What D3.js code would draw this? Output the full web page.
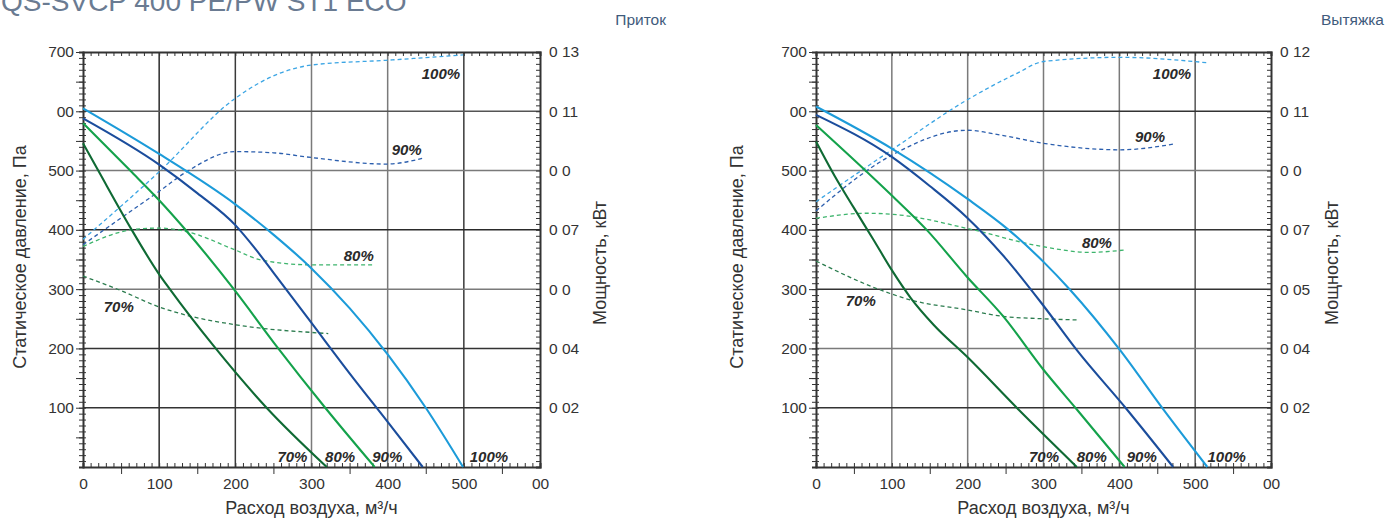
<!DOCTYPE html>
<html>
<head>
<meta charset="utf-8">
<script src="https://cdn.jsdelivr.net/npm/d3@7"></script>
<style>
  html, body { margin: 0; padding: 0; background: #fff; }
  svg { display: block; font-family: "Liberation Sans", Arial, sans-serif; }
</style>
</head>
<body>
<script>
// ---------------- DATA ----------------
const chartTitle = "QS-SVCP 400 PE/PW ST1 ECO";
const panelNames = ["Приток", "Вытяжка"];
const speeds = ["70%", "80%", "90%", "100%"];

const flowTicks = [0, 100, 200, 300, 400, 500, 600];
const flowTickLabels = ["0", "100", "200", "300", "400", "500", "00"];
const pressureTicks = [100, 200, 300, 400, 500, 600, 700];
const pressureTickLabels = ["100", "200", "300", "400", "500", "00", "700"];

const supplyPowerTicks = [0.02, 0.04, 0.06, 0.07, 0.09, 0.11, 0.13];
const supplyPowerTickLabels = ["0 02", "0 04", "0 0", "0 07", "0 0", "0 11", "0 13"];
const exhaustPowerTicks = [0.02, 0.04, 0.05, 0.07, 0.09, 0.11, 0.12];
const exhaustPowerTickLabels = ["0 02", "0 04", "0 05", "0 07", "0 0", "0 11", "0 12"];

// Supply (Приток): static pressure, Pa, vs air flow m3/h
const supplyPressure70  = [[0,546],[20,500],[64,400],[100,325],[114,300],[171,205],[241,100],[320,0]];
const supplyPressure80  = [[0,580],[62,500],[100,450],[132,404],[198,300],[254,204],[318,100],[383,0]];
const supplyPressure90  = [[0,588],[100,510],[150,462],[200,408],[225,370],[250,328],[300,243],[350,158],[400,76],[446,0]];
const supplyPressure100 = [[0,605],[100,528],[200,443],[250,392],[300,335],[350,268],[400,190],[450,100],[499,0]];
// Supply: power, kW
const supplyPower70  = [[0,0.0622],[48,0.0597],[100,0.054],[136,0.0512],[200,0.048],[234,0.0468],[300,0.0454],[322,0.045]];
const supplyPower80  = [[0,0.0672],[66,0.0701],[100,0.0706],[136,0.0697],[200,0.0666],[234,0.0649],[300,0.0641],[383,0.0641]];
const supplyPower90  = [[0,0.0675],[50,0.074],[100,0.083],[136,0.0896],[200,0.0964],[250,0.096],[300,0.0944],[398,0.0922],[447,0.0942]];
const supplyPower100 = [[0,0.0684],[100,0.0896],[200,0.1144],[258,0.1228],[300,0.1256],[398,0.1272],[499,0.129]];

// Exhaust (Вытяжка): static pressure, Pa
const exhaustPressure70  = [[0,549],[25,490],[50,437],[75,385],[100,332],[125,285],[155,240],[200,185],[267,97],[344,0]];
const exhaustPressure80  = [[0,577],[100,458],[146,400],[199,321],[247,254],[300,164],[344,97],[407,0]];
const exhaustPressure90  = [[0,594],[100,523],[150,474],[199,421],[250,352],[300,272],[344,197],[410,97],[471,0]];
const exhaustPressure100 = [[0,608],[100,537],[199,453],[254,400],[300,346],[335,299],[401,197],[458,97],[516,0]];
// Exhaust: power, kW
const exhaustPower70  = [[0,0.0595],[80,0.0502],[124,0.0482],[199,0.0465],[247,0.0454],[300,0.045],[346,0.0448]];
const exhaustPower80  = [[0,0.0739],[67,0.0756],[111,0.075],[199,0.0705],[300,0.0643],[361,0.0624],[407,0.0632]];
const exhaustPower90  = [[0,0.0764],[100,0.0952],[199,0.1036],[243,0.102],[300,0.0992],[401,0.097],[473,0.099]];
const exhaustPower100 = [[0,0.0795],[100,0.097],[199,0.1119],[265,0.1164],[300,0.1184],[401,0.1191],[515,0.1182]];

// ---------------- STYLE / LAYOUT ----------------
const W = 1386, H = 522;
const solidColors  = {"70%": "#0f6a34", "80%": "#14a24b", "90%": "#1b4d9c", "100%": "#1c9bd9"};
const dashedColors = {"70%": "#2b7c4e", "80%": "#3db46c", "90%": "#2c5fae", "100%": "#3ba5e4"};

const panels = [
  {
    name: panelNames[0], x0: 83, x1: 540,
    pressure: [supplyPressure70, supplyPressure80, supplyPressure90, supplyPressure100],
    power: [supplyPower70, supplyPower80, supplyPower90, supplyPower100],
    powerTicks: supplyPowerTicks, powerTickLabels: supplyPowerTickLabels,
    powerLabelAt: [[47,270],[362,357],[425,535],[470,664]],
    endLabelAt: [275, 337.5, 399.5, 533],
    vGrid: ["#2a2a2a", "#3a3a3a", "#7a7a7a", "#7a7a7a", "#3a3a3a"],
    hGrid: ["#333", "#333", "#7a7a7a", "#2a2a2a", "#7a7a7a", "#555"],
    leftTitleX: 20, rightTitleX: 600, nameRight: 666
  },
  {
    name: panelNames[1], x0: 816, x1: 1271,
    pressure: [exhaustPressure70, exhaustPressure80, exhaustPressure90, exhaustPressure100],
    power: [exhaustPower70, exhaustPower80, exhaustPower90, exhaustPower100],
    powerTicks: exhaustPowerTicks, powerTickLabels: exhaustPowerTickLabels,
    powerLabelAt: [[59,280.5],[370.5,378],[440.5,558],[469.5,664.5]],
    endLabelAt: [300.7, 363.7, 429.6, 541.6],
    vGrid: ["#7a7a7a", "#7a7a7a", "#7a7a7a", "#7a7a7a", "#555"],
    hGrid: ["#333", "#7a7a7a", "#333", "#333", "#7a7a7a", "#333"],
    leftTitleX: 737, rightTitleX: 1332, nameRight: 1384
  }
];
const yBottom = 467, yTop = 52;

const svg = d3.select("body").append("svg").attr("width", W).attr("height", H);

// title (partly cut off at top as in reference)
svg.append("text").attr("x", 1).attr("y", 11)
  .attr("font-size", 28).attr("fill", "#6a7b92").text(chartTitle);

panels.forEach(p => {
  const g = svg.append("g");
  const x = d3.scaleLinear().domain([0, 600]).range([p.x0, p.x1]);
  const y = d3.scaleLinear().domain([0, 700]).range([yBottom, yTop]);
  const pw = d3.scaleLinear().domain([0, ...p.powerTicks])
    .range([0, ...pressureTicks].map(v => y(v)));

  g.append("text").attr("x", p.nameRight).attr("y", 25).attr("text-anchor", "end")
    .attr("font-size", 15.5).attr("fill", "#3f5b7c").text(p.name);

  // grid
  g.selectAll(".vg").data(flowTicks.slice(1, -1)).enter().append("line")
    .attr("x1", d => x(d)).attr("x2", d => x(d)).attr("y1", y(0)).attr("y2", y(700))
    .attr("stroke", (d, i) => p.vGrid[i]).attr("stroke-width", 1.5);
  g.selectAll(".hg").data(pressureTicks.slice(0, -1)).enter().append("line")
    .attr("x1", x(0)).attr("x2", x(600)).attr("y1", d => y(d)).attr("y2", d => y(d))
    .attr("stroke", (d, i) => p.hGrid[i]).attr("stroke-width", 1.5);

  const styleAxis = sel => {
    sel.selectAll("path").attr("stroke", "#333").attr("stroke-width", 2);
    sel.selectAll("line").attr("stroke", "#333").attr("stroke-width", 1);
    sel.selectAll("text").attr("fill", "#333").attr("font-size", 15.5)
      .attr("font-family", "Liberation Sans, Arial, sans-serif");
  };
  const minorFlow = d3.range(0, 601, 10);
  const minorPress = d3.range(0, 701, 10);

  // left axis ruler
  g.append("g").attr("transform", `translate(${x(0)},0)`)
    .call(d3.axisLeft(y).tickValues(minorPress).tickSize(4).tickFormat("")).call(styleAxis);
  g.append("g").attr("transform", `translate(${x(0)},0)`)
    .call(d3.axisRight(y).tickValues(minorPress).tickSize(3).tickFormat("")).call(styleAxis)
    .select(".domain").remove();
  g.append("g").attr("transform", `translate(${x(0)},0)`)
    .call(d3.axisLeft(y).tickValues(d3.range(50, 701, 50)).tickSize(7).tickFormat("")).call(styleAxis)
    .select(".domain").remove();
  g.append("g").attr("transform", `translate(${x(0)},0)`)
    .call(d3.axisLeft(y).tickValues(pressureTicks).tickSize(0).tickPadding(9)
      .tickFormat((d, i) => pressureTickLabels[i])).call(styleAxis)
    .select(".domain").remove();

  // top axis
  g.append("g").attr("transform", `translate(0,${y(700)})`)
    .call(d3.axisTop(x).tickValues(minorFlow).tickSize(-4).tickFormat("")).call(styleAxis);

  // bottom axis
  g.append("g").attr("transform", `translate(0,${y(0)})`)
    .call(d3.axisBottom(x).tickValues(minorFlow).tickSize(-4).tickFormat("")).call(styleAxis);
  g.append("g").attr("transform", `translate(0,${y(0)})`)
    .call(d3.axisBottom(x).tickValues(d3.range(50, 600, 100)).tickSize(7).tickFormat("")).call(styleAxis)
    .select(".domain").remove();
  g.append("g").attr("transform", `translate(0,${y(0)})`)
    .call(d3.axisBottom(x).tickValues(flowTicks).tickSize(0).tickPadding(11)
      .tickFormat((d, i) => flowTickLabels[i])).call(styleAxis)
    .select(".domain").remove();

  // right axis (power)
  g.append("g").attr("transform", `translate(${x(600)},0)`)
    .call(d3.axisLeft(y).tickValues(minorPress).tickSize(4).tickFormat("")).call(styleAxis);
  g.append("g").attr("transform", `translate(${x(600)},0)`)
    .call(d3.axisRight(pw).tickValues(p.powerTicks).tickSize(0).tickPadding(9)
      .tickFormat((d, i) => p.powerTickLabels[i])).call(styleAxis)
    .select(".domain").remove();

  // axis titles
  g.append("text").attr("transform", `translate(${p.leftTitleX},257) rotate(-90)`)
    .attr("text-anchor", "middle").attr("dominant-baseline", "central")
    .attr("font-size", 18).attr("fill", "#333").text("Статическое давление, Па");
  g.append("text").attr("transform", `translate(${p.rightTitleX},263) rotate(-90)`)
    .attr("text-anchor", "middle").attr("dominant-baseline", "central")
    .attr("font-size", 18).attr("fill", "#333").text("Мощность, кВт");
  g.append("text").attr("x", (x(0) + x(600)) / 2).attr("y", 514)
    .attr("text-anchor", "middle").attr("font-size", 18).attr("fill", "#333")
    .text("Расход воздуха, м³/ч");

  // curves
  const pressLine = d3.line().x(d => x(d[0])).y(d => y(d[1])).curve(d3.curveMonotoneX);
  const powerLine = d3.line().x(d => x(d[0])).y(d => pw(d[1])).curve(d3.curveMonotoneX);

  p.power.forEach((s, i) => {
    g.append("path").attr("d", powerLine(s)).attr("fill", "none")
      .attr("stroke", dashedColors[speeds[i]]).attr("stroke-width", 1.3)
      .attr("stroke-dasharray", "4,3");
  });
  p.pressure.forEach((s, i) => {
    g.append("path").attr("d", pressLine(s)).attr("fill", "none")
      .attr("stroke", solidColors[speeds[i]]).attr("stroke-width", 2.1);
  });

  const lab = (xx, yy, t) => g.append("text").attr("x", xx).attr("y", yy)
    .attr("text-anchor", "middle").attr("dominant-baseline", "central")
    .attr("font-size", 15).attr("font-weight", "bold").attr("font-style", "italic")
    .attr("fill", "#2a2a2a").text(t);
  p.powerLabelAt.forEach((a, i) => lab(x(a[0]), y(a[1]), speeds[i]));
  p.endLabelAt.forEach((a, i) => lab(x(a), y(17.4), speeds[i]));
});
</script>
</body>
</html>
